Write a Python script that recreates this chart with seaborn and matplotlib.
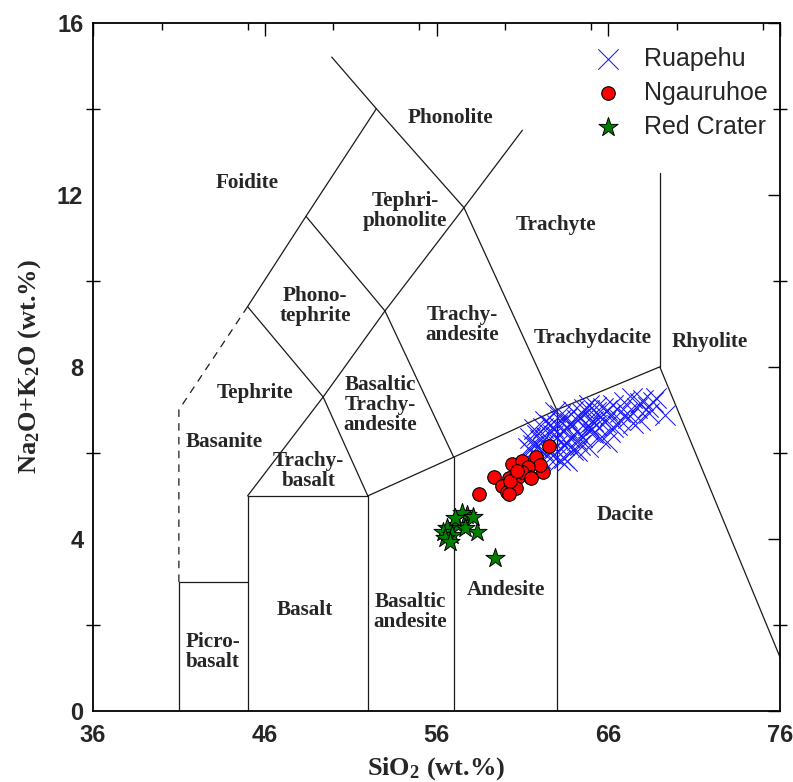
import numpy as np
import pandas as pd
import seaborn as sns
import matplotlib
matplotlib.use("Agg")
import matplotlib.pyplot as plt
from matplotlib.ticker import MultipleLocator

# ---------------- data ----------------
ruapehu_sio2 = [69.3, 68.8, 68.0, 68.3, 67.4, 67.7, 67.15, 66.7, 66.9, 66.3, 66.1, 65.8, 65.7,
                65.3, 65.3, 65.1, 65.5, 66.1, 66.5, 65.9, 68.6, 67.85, 67.45, 67.85, 68.4, 66.7,
                66.3, 64.9, 64.5, 64.2, 63.6, 63.95, 64.8, 63.0, 62.6, 62.2, 61.85, 63.4, 63.8,
                64.2, 63.2, 62.8, 64.5, 64.9, 65.3, 63.0, 62.4, 62.0, 65.9, 65.5, 67.1, 63.2,
                63.6, 63.95, 64.35, 64.6, 64.9, 64.8, 65.1, 64.2, 63.8, 63.4, 64.2, 62.8, 62.2,
                62.6, 63.0, 61.85, 61.6, 61.45, 61.3, 62.8, 63.4, 63.6, 62.4, 62.0, 63.0, 64.35,
                63.6, 64.9, 61.45, 63.2, 62.9, 62.3, 61.7]
ruapehu_alk = [6.88, 7.28, 7.23, 7.07, 7.28, 7.04, 6.81, 6.95, 7.18, 7.11, 6.88, 6.72, 7.04,
               6.95, 6.65, 6.46, 6.35, 6.49, 6.65, 6.25, 7.18, 7.16, 6.69, 6.76, 6.93, 6.76,
               6.60, 6.60, 6.37, 6.30, 6.23, 6.07, 6.14, 5.90, 6.00, 6.07, 6.14, 6.53, 6.69,
               6.76, 6.76, 6.60, 6.93, 7.00, 7.07, 6.37, 6.37, 6.30, 7.00, 6.83, 6.93, 6.88,
               6.81, 6.97, 6.81, 7.02, 7.11, 6.65, 6.74, 6.51, 6.35, 6.18, 6.04, 6.42, 6.58,
               6.65, 6.65, 6.42, 6.18, 6.35, 6.11, 5.95, 5.88, 5.81, 5.95, 5.88, 6.18, 6.18,
               6.58, 6.51, 6.07, 5.83, 6.95, 6.75, 6.55]

ngauruhoe_sio2 = [58.5, 59.35, 60.2, 60.4, 60.95, 61.8, 62.55, 62.2, 62.0, 61.3, 61.45, 60.75,
                  60.6, 59.8, 60.1, 61.0, 60.3, 61.5, 60.7, 60.2]
ngauruhoe_alk = [5.05, 5.43, 5.42, 5.75, 5.80, 5.90, 6.15, 5.55, 5.73, 5.67, 5.45, 5.45,
                 5.18, 5.22, 5.09, 5.56, 5.35, 5.42, 5.58, 5.05]

redcrater_sio2 = [59.4, 58.36, 57.8, 57.5, 58.1, 57.25, 56.6, 56.4, 56.9, 56.5, 57.66, 57.1, 56.8]
redcrater_alk = [3.56, 4.16, 4.56, 4.60, 4.50, 4.32, 4.25, 4.16, 4.09, 4.02, 4.25, 4.49, 3.93]

# TAS field boundaries (SiO2, Na2O+K2O)
boundaries_solid = [
    [(41, 0), (41, 3), (45, 3)],
    [(45, 0), (45, 5), (52, 5), (52, 0)],
    [(52, 5), (57, 5.9), (63, 7), (69, 8), (77.3, 0)],
    [(57, 0), (57, 5.9)],
    [(63, 0), (63, 7)],
    [(69, 8), (69, 12.5)],
    [(45, 5), (49.4, 7.3), (53, 9.3), (57.6, 11.7), (61, 13.5)],
    [(49.4, 7.3), (52, 5)],
    [(57, 5.9), (53, 9.3), (48.4, 11.5), (45, 9.4), (49.4, 7.3)],
    [(63, 7), (57.6, 11.7), (52.5, 14), (49.9, 15.2)],
    [(52.5, 14), (48.4, 11.5)],
]
boundaries_dashed = [[(41, 3), (41, 7), (45, 9.4)]]

field_names = ["Foidite", "Phonolite", "Tephri-\nphonolite", "Trachyte", "Phono-\ntephrite",
               "Trachy-\nandesite", "Trachydacite", "Rhyolite", "Tephrite",
               "Basaltic\nTrachy-\nandesite", "Basanite", "Trachy-\nbasalt", "Dacite",
               "Picro-\nbasalt", "Basalt", "Basaltic\nandesite", "Andesite"]
field_x = [44.97, 56.79, 54.17, 62.96, 48.93, 57.48, 65.11, 71.92, 45.43,
           52.71, 43.63, 48.54, 67.0, 42.99, 48.34, 54.46, 60.05]
field_y = [12.27, 13.78, 11.62, 11.30, 9.41, 8.97, 8.67, 8.58, 7.39,
           7.11, 6.25, 5.58, 4.56, 1.37, 2.35, 2.30, 2.81]

x_ticks = [36, 46, 56, 66, 76]
y_ticks = [0, 4, 8, 12, 16]

# ---------------- style ----------------
sns.set_style("white")
plt.rcParams["font.family"] = ["Liberation Sans", "DejaVu Sans"]
plt.rcParams["mathtext.fontset"] = "custom"
plt.rcParams["mathtext.rm"] = "Liberation Serif:bold"
plt.rcParams["mathtext.it"] = "Liberation Serif:bold"
plt.rcParams["mathtext.bf"] = "Liberation Serif:bold"
plt.rcParams["mathtext.default"] = "rm"

fig = plt.figure(figsize=(7.93, 7.82), dpi=100)
ax = fig.add_axes([93 / 793, 1 - 711 / 782, 687 / 793, (711 - 22.7) / 782])

line_col = "#1a1a1a"
for seg in boundaries_solid:
    xs, ys = zip(*seg)
    ax.plot(xs, ys, color=line_col, lw=0.9, zorder=1)
for seg in boundaries_dashed:
    xs, ys = zip(*seg)
    ax.plot(xs, ys, color=line_col, lw=0.9, ls=(0, (6, 5)), zorder=1)

for name, fx, fy in zip(field_names, field_x, field_y):
    ax.text(fx, fy, name, ha="center", va="center", family="Liberation Serif",
            weight="bold", fontsize=15.2, linespacing=0.98, zorder=2)

df_r = pd.DataFrame({"SiO2": ruapehu_sio2, "Alk": ruapehu_alk})
df_n = pd.DataFrame({"SiO2": ngauruhoe_sio2, "Alk": ngauruhoe_alk})
df_c = pd.DataFrame({"SiO2": redcrater_sio2, "Alk": redcrater_alk})

sns.scatterplot(data=df_r, x="SiO2", y="Alk", marker="x", s=215, color="#1a1aff",
                linewidth=0.75, ax=ax, label="Ruapehu", zorder=3)
sns.scatterplot(data=df_n, x="SiO2", y="Alk", marker="o", s=95, color="#ff0000",
                edgecolor="black", linewidth=0.8, ax=ax, label="Ngauruhoe", zorder=4)
sns.scatterplot(data=df_c, x="SiO2", y="Alk", marker="*", s=210, color="#008000",
                edgecolor="black", linewidth=0.7, ax=ax, label="Red Crater", zorder=5)

ax.set_xlim(36, 76)
ax.set_ylim(0, 16)
ax.set_xticks(x_ticks)
ax.set_yticks(y_ticks)
ax.xaxis.set_minor_locator(MultipleLocator(5))
ax.yaxis.set_minor_locator(MultipleLocator(2))
ax.tick_params(which="both", direction="in", top=True, right=True, width=1.0, color="black")
ax.tick_params(which="major", length=9)
ax.tick_params(which="minor", length=5)
ax.tick_params(axis="y", which="minor", left=True, direction="inout", length=10)
ax.tick_params(axis="x", which="major", pad=9)
ax.tick_params(axis="y", which="major", pad=7)
for lab in ax.get_xticklabels() + ax.get_yticklabels():
    lab.set_fontweight("bold")
    lab.set_fontsize(17)
    lab.set_family(["Liberation Sans", "DejaVu Sans"])

for sp in ax.spines.values():
    sp.set_visible(True)
    sp.set_linewidth(1.3)
    sp.set_color("black")

ax.set_xlabel(r"SiO$_2$ (wt.%)", family="Liberation Serif", weight="bold", fontsize=19, labelpad=6)
ax.set_ylabel(r"Na$_2$O+K$_2$O (wt.%)", family="Liberation Serif", weight="bold", fontsize=19, labelpad=10)

leg = ax.legend(loc="upper right", bbox_to_anchor=(1.0, 0.983), frameon=False,
                prop={"family": "Liberation Sans", "size": 18}, handlelength=1.3,
                handletextpad=0.8, labelspacing=0.4, borderaxespad=0.1, borderpad=0.4)

fig.savefig("out.png", dpi=100)
